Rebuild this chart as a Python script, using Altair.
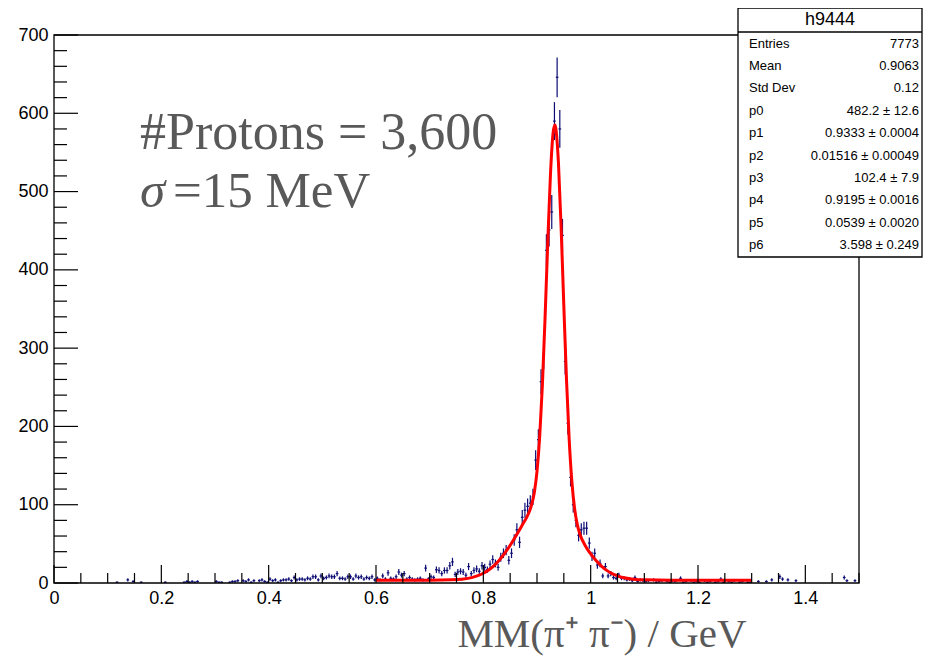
import math
import altair as alt
import pandas as pd

# ---------------- data ----------------
BIN_WIDTH = 0.005  # GeV, 300 bins from 0 to 1.5

COUNTS = (
    [0] * 20
    + [0, 0, 0, 1, 0, 0, 0, 4, 0, 2, 0, 0, 1, 0, 0, 0, 0, 0, 0, 0]
    + [0, 1, 0, 0, 0, 0, 0, 0, 1, 2, 1, 2, 1, 2, 0, 0, 0, 0, 0, 0]
    + [2, 1, 1, 0, 0, 1, 2, 2, 3, 0, 3, 2, 4, 1, 3, 0, 3, 4, 2, 1]
    + [5, 3, 4, 1, 3, 4, 4, 5, 3, 7, 4, 5, 5, 4, 6, 5, 8, 8, 4, 9]
    + [6, 7, 9, 8, 8, 12, 6, 6, 5, 8, 8, 5, 9, 7, 8, 5, 7, 6, 8, 4]
    + [6, 4, 9, 5, 13, 6, 5, 8, 14, 10, 12, 5, 7, 5, 4, 5, 6, 4, 19, 5]
    + [8, 7, 17, 16, 12, 16, 16, 22, 27, 11, 14, 15, 14, 10, 21, 12, 16, 18, 15, 22]
    + [20, 17, 24, 30, 25, 20, 33, 38, 42, 29, 38, 55, 68, 52, 84, 93, 98, 102, 110, 157]
    + [183, 257, 290, 425, 451, 474, 590, 646, 580, 444, 283, 204, 135, 100, 80, 61, 68, 70, 70, 51]
    + [34, 38, 23, 25, 9, 21, 9, 12, 7, 6, 10, 6, 6, 4, 5, 3, 7, 2, 4, 3]
    + [2, 3, 0, 4, 1, 2, 3, 0, 2, 1, 3, 2, 0, 6, 1, 2, 0, 3, 1, 2]
    + [1, 0, 3, 1, 2, 0, 1, 2, 5, 1, 0, 2, 1, 3, 0, 1, 2, 0, 1, 1]
    + [0, 0, 2, 0, 0, 2, 0, 4, 0, 0, 8, 5, 0, 4, 0, 0, 3, 0, 0, 0]
    + [0, 0, 0, 0, 0, 0, 0, 0, 0, 0, 0, 0, 0, 0, 7, 3, 0, 0, 3, 0]
)

FIT_X = [0.60, 0.65, 0.70, 0.72, 0.74, 0.76, 0.78, 0.79, 0.80, 0.81, 0.82, 0.83,
         0.84, 0.85, 0.86, 0.87, 0.875, 0.88, 0.885, 0.89, 0.895, 0.90, 0.905, 0.91,
         0.915, 0.92, 0.925, 0.93, 0.9333, 0.935, 0.94, 0.945, 0.95, 0.955,
         0.96, 0.965, 0.97, 0.975, 0.98, 0.99, 1.00, 1.01, 1.02, 1.03, 1.04,
         1.05, 1.06, 1.08, 1.10, 1.15, 1.20, 1.30]
FIT_Y = [3.6, 3.6, 3.62, 3.71, 4.0, 4.9, 7.2, 9.3, 12.4, 16.6, 22.2, 29.4,
         38.1, 48.2, 59.3, 70.9, 76.9, 82.9, 90.0, 100.0, 115.7, 142.7, 186.8, 252.4,
         338.3, 434.2, 520.6, 575.0, 584.9, 581.0, 536.1, 453.1, 353.7, 259.2,
         183.0, 129.5, 95.3, 74.9, 62.3, 47.5, 37.1, 28.6, 21.6, 16.1, 12.0,
         9.2, 7.0, 4.8, 4.0, 3.6, 3.6, 3.6]

Y_MAJOR = [0, 100, 200, 300, 400, 500, 600, 700]
Y_MINOR = [v for v in range(0, 701, 20) if v % 100]
X_MAJOR = [0, 0.2, 0.4, 0.6, 0.8, 1.0, 1.2, 1.4]
X_MINOR = [round(0.05 * k, 2) for k in range(31) if k % 4]

STAT_TITLE = "h9444"
STAT_NAMES = ["Entries", "Mean", "Std Dev", "p0", "p1", "p2", "p3", "p4", "p5", "p6"]
STAT_VALUES = ["7773", "0.9063", "0.12", "482.2 ± 12.6", "0.9333 ± 0.0004",
               "0.01516 ± 0.00049", "102.4 ± 7.9", "0.9195 ± 0.0016",
               "0.0539 ± 0.0020", "3.598 ± 0.249"]

ANNOT_1 = "#Protons = 3,600"
ANNOT_SIGMA = "σ"
ANNOT_2 = "=15 MeV"
X_TITLE = "MM(π⁺ π⁻) / GeV"

# ---------------- build tables ----------------
rows = []
for i, n in enumerate(COUNTS):
    if n > 0:
        e = math.sqrt(n)
        rows.append(dict(lo=i * BIN_WIDTH, hi=(i + 1) * BIN_WIDTH,
                         c=(i + 0.5) * BIN_WIDTH, n=n, elo=n - e, ehi=n + e))
hist = pd.DataFrame(rows)
fitdf = pd.DataFrame({"fx": FIT_X, "fy": FIT_Y})

W, H = 805, 548
NAVY = "#0c0c74"
GRAY = "#595959"
SANS = "Liberation Sans"
SERIF = "Liberation Serif"

XS = alt.Scale(domain=[0, 1.5], nice=False, zero=False)
YS = alt.Scale(domain=[0, 700], nice=False, zero=True)
XAXIS = alt.Axis(values=X_MAJOR, ticks=False, domain=False, grid=False,
                 labelFontSize=18, labelFont=SANS, labelColor="black",
                 labelPadding=6, labelFlush=False, format="~g")
YAXIS = alt.Axis(values=Y_MAJOR, ticks=False, domain=False, grid=False,
                 labelFontSize=18, labelFont=SANS, labelColor="black",
                 labelPadding=6)


def xenc(f):
    return alt.X(f, type="quantitative", scale=XS, axis=XAXIS, title=None)


def yenc(f):
    return alt.Y(f, type="quantitative", scale=YS, axis=YAXIS, title=None)


one = pd.DataFrame({"k": [0]})

vbars = alt.Chart(hist).mark_rule(color=NAVY, strokeWidth=1.2).encode(
    x=xenc("c"), y=yenc("elo"), y2="ehi")
hbars = alt.Chart(hist).mark_rule(color=NAVY, strokeWidth=1.2).encode(
    x=xenc("lo"), x2="hi", y=yenc("n"))
fit = alt.Chart(fitdf).mark_line(color="#ff0000", strokeWidth=3,
                                 interpolate="monotone").encode(
    x=xenc("fx"), y=yenc("fy"))

ymaj = alt.Chart(pd.DataFrame({"v": Y_MAJOR})).mark_rule(color="black", strokeWidth=1.2).encode(
    y=yenc("v"), x=alt.value(0), x2=alt.value(24))
ymin = alt.Chart(pd.DataFrame({"v": Y_MINOR})).mark_rule(color="black", strokeWidth=1.2).encode(
    y=yenc("v"), x=alt.value(0), x2=alt.value(13))
xmaj = alt.Chart(pd.DataFrame({"v": X_MAJOR})).mark_rule(color="black", strokeWidth=1.2).encode(
    x=xenc("v"), y=alt.value(H), y2=alt.value(H - 18))
xmin = alt.Chart(pd.DataFrame({"v": X_MINOR})).mark_rule(color="black", strokeWidth=1.2).encode(
    x=xenc("v"), y=alt.value(H), y2=alt.value(H - 10))

frame = alt.Chart(one).mark_rect(fill="transparent", stroke="black", strokeWidth=1.3).encode(
    x=alt.value(0), x2=alt.value(W), y=alt.value(0), y2=alt.value(H))

ann1 = alt.Chart(one).mark_text(text=ANNOT_1, align="left", baseline="alphabetic",
                                font=SERIF, fontSize=52, color=GRAY).encode(
    x=alt.value(86), y=alt.value(114))
ann_s = alt.Chart(one).mark_text(text=ANNOT_SIGMA, align="left", baseline="alphabetic",
                                 font=SERIF, fontSize=51, fontStyle="italic", color=GRAY).encode(
    x=alt.value(86), y=alt.value(172))
ann2 = alt.Chart(one).mark_text(text=ANNOT_2, align="left", baseline="alphabetic",
                                font=SERIF, fontSize=51, color=GRAY).encode(
    x=alt.value(119), y=alt.value(172))
xtitle = alt.Chart(one).mark_text(text=X_TITLE, align="center", baseline="alphabetic",
                                  font=SERIF, fontSize=41, color=GRAY).encode(
    x=alt.value(548), y=alt.value(612))

# stats box (pixel placement relative to plot origin)
BX0, BX1, BY0, BY1, BYH = 684, 868, -27, 222, -3
box = alt.Chart(one).mark_rect(fill="white", stroke="black", strokeWidth=1.3).encode(
    x=alt.value(BX0), x2=alt.value(BX1), y=alt.value(BY0), y2=alt.value(BY1))
boxline = alt.Chart(one).mark_rule(color="black", strokeWidth=1.3).encode(
    x=alt.value(BX0), x2=alt.value(BX1), y=alt.value(BYH))
boxtitle = alt.Chart(one).mark_text(text=STAT_TITLE, align="center", baseline="middle",
                                    font=SANS, fontSize=18, color="black").encode(
    x=alt.value((BX0 + BX1) / 2), y=alt.value((BY0 + BYH) / 2))
names = alt.Chart(one).mark_text(text="\n".join(STAT_NAMES), lineBreak="\n", lineHeight=22.4,
                                 align="left", baseline="alphabetic",
                                 font=SANS, fontSize=13, color="black").encode(
    x=alt.value(BX0 + 11), y=alt.value(12.7))
values = alt.Chart(one).mark_text(text="\n".join(STAT_VALUES), lineBreak="\n", lineHeight=22.4,
                                  align="right", baseline="alphabetic",
                                  font=SANS, fontSize=13, color="black").encode(
    x=alt.value(BX1 - 3), y=alt.value(12.7))

chart = alt.layer(
    vbars, hbars, fit, ymaj, ymin, xmaj, xmin, frame,
    ann1, ann_s, ann2, xtitle, box, boxline, boxtitle, names, values
).properties(
    width=W, height=H,
    padding={"left": 46, "top": 27, "right": 64, "bottom": 75},
    autosize=alt.AutoSizeParams(type="none"),
    background="white",
).configure_view(stroke="transparent")

chart.save("out.html", embed_options={"renderer": "svg", "actions": False})
